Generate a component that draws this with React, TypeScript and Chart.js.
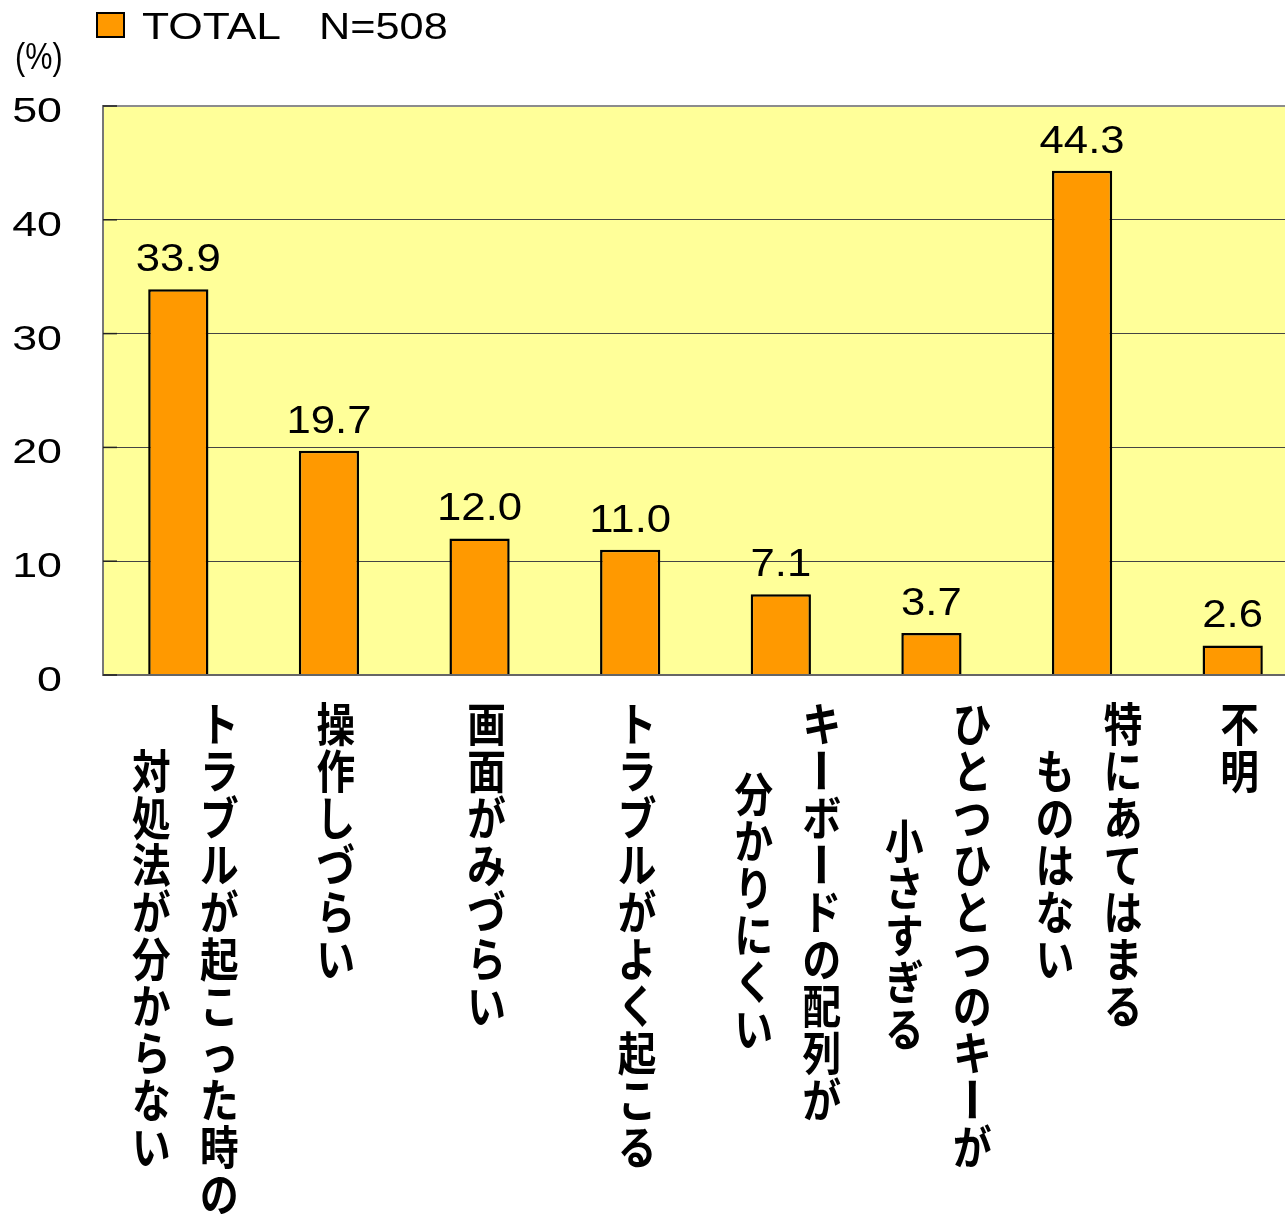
import React, { useEffect, useRef } from "react";
import { Chart, registerables } from "chart.js";

Chart.register(...registerables);

// ---- data ----
const categories: string[] = [
  "トラブルが起こった時の対処法が分からない",
  "操作しづらい",
  "画面がみづらい",
  "トラブルがよく起こる",
  "キーボードの配列が分かりにくい",
  "ひとつひとつのキーが小さすぎる",
  "特にあてはまるものはない",
  "不明",
];
const labelColumns: string[][] = [
  ["トラブルが起こった時の", "対処法が分からない"],
  ["操作しづらい"],
  ["画面がみづらい"],
  ["トラブルがよく起こる"],
  ["キーボードの配列が", "分かりにくい"],
  ["ひとつひとつのキーが", "小さすぎる"],
  ["特にあてはまる", "ものはない"],
  ["不明"],
];
const values: number[] = [33.9, 19.7, 12.0, 11.0, 7.1, 3.7, 44.3, 2.6];
const yTicks: number[] = [0, 10, 20, 30, 40, 50];
const seriesName = "TOTAL";
const sampleSize = "N=508";
const unitLabel = "(%)";

// ---- styles ----
const LATIN = '"Liberation Sans", Arial, sans-serif';
const CJK = '"Noto Sans CJK JP", sans-serif';
const BAR_COLOR = "#FF9900";
const PLOT_BG = "#FFFF99";

function drawText(
  ctx: CanvasRenderingContext2D,
  s: string,
  x: number,
  y: number,
  font: string,
  sx: number,
  sy: number,
  align: CanvasTextAlign,
  baseline: CanvasTextBaseline = "alphabetic"
) {
  ctx.save();
  ctx.translate(x, y);
  ctx.scale(sx, sy);
  ctx.font = font;
  ctx.textAlign = align;
  ctx.textBaseline = baseline;
  ctx.fillStyle = "#000";
  ctx.fillText(s, 0, 0);
  ctx.restore();
}

const decorPlugin = {
  id: "decor",
  beforeDraw(chart: any) {
    const { ctx, chartArea } = chart;
    ctx.save();
    ctx.fillStyle = PLOT_BG;
    ctx.fillRect(chartArea.left, chartArea.top, chartArea.right - chartArea.left, chartArea.bottom - chartArea.top);
    ctx.restore();
  },
  afterDatasetsDraw(chart: any) {
    const { ctx } = chart;
    const meta = chart.getDatasetMeta(0);
    meta.data.forEach((bar: any, i: number) => {
      drawText(ctx, values[i].toFixed(1), bar.x, bar.y - 18, `39px ${LATIN}`, 1.12, 1, "center");
    });
  },
  afterDraw(chart: any) {
    const { ctx, chartArea } = chart;
    const yScale = chart.scales.y;
    const xScale = chart.scales.x;

    // inward tick marks on the left axis
    ctx.save();
    ctx.strokeStyle = "#222";
    ctx.lineWidth = 1.5;
    yTicks.forEach((v) => {
      const py = yScale.getPixelForValue(v);
      ctx.beginPath();
      ctx.moveTo(chartArea.left, py);
      ctx.lineTo(chartArea.left + 14, py);
      ctx.stroke();
    });
    ctx.restore();

    // y tick labels
    yTicks.forEach((v) => {
      const py = yScale.getPixelForValue(v);
      drawText(ctx, String(v), 62, py + 16, `35px ${LATIN}`, 1.28, 1, "right");
    });

    // unit label
    drawText(ctx, unitLabel, 15, 69, `36px ${LATIN}`, 0.85, 1, "left");

    // legend
    ctx.save();
    ctx.fillStyle = BAR_COLOR;
    ctx.strokeStyle = "#000";
    ctx.lineWidth = 2;
    ctx.fillRect(97, 13, 27, 24);
    ctx.strokeRect(97, 13, 27, 24);
    ctx.restore();
    drawText(ctx, seriesName, 142, 39, `37px ${LATIN}`, 1.2, 1, "left");
    drawText(ctx, sampleSize, 319, 39, `37px ${LATIN}`, 1.17, 1, "left");

    // vertical x labels
    const pitch = 47;
    const top0 = 700;
    const colGap = 68;
    labelColumns.forEach((cols, i) => {
      const cx = xScale.getPixelForValue(i) + 7;
      const maxLen = Math.max(...cols.map((c) => Array.from(c).length));
      cols.forEach((col, j) => {
        const chars = Array.from(col);
        const x = cx + (cols.length === 1 ? 0 : (cols.length - 1) / 2 * colGap - j * colGap);
        const start = top0 + ((maxLen - chars.length) * pitch) / 2;
        chars.forEach((ch, k) => {
          const y = start + k * pitch + pitch / 2;
          ctx.save();
          ctx.translate(x, y);
          if (ch === "ー") {
            ctx.rotate(Math.PI / 2);
          } else {
            ctx.scale(0.84, 1);
          }
          ctx.font = `bold 46px ${CJK}`;
          ctx.textAlign = "center";
          ctx.textBaseline = "middle";
          ctx.fillStyle = "#000";
          ctx.fillText(ch, 0, 0);
          ctx.restore();
        });
      });
    });
  },
};

export default function App() {
  const canvasRef = useRef<HTMLCanvasElement | null>(null);

  useEffect(() => {
    if (!canvasRef.current) return;
    const chart = new Chart(canvasRef.current, {
      type: "bar",
      data: {
        labels: categories,
        datasets: [
          {
            label: seriesName,
            data: values,
            backgroundColor: BAR_COLOR,
            borderColor: "#000",
            borderWidth: 2.5,
            categoryPercentage: 1,
            barPercentage: 0.4,
          },
        ],
      },
      options: {
        responsive: true,
        maintainAspectRatio: false,
        animation: false,
        events: [],
        layout: { padding: { left: 103, top: 106, right: 12, bottom: 539 } },
        plugins: {
          legend: { display: false },
          tooltip: { enabled: false },
        },
        scales: {
          x: { display: false },
          y: {
            min: 0,
            max: 50,
            ticks: { display: false, stepSize: 10 },
            grid: {
              drawTicks: false,
              color: (c: any) => (c.tick && c.tick.value === 50 ? "#8c8c8c" : c.tick && c.tick.value === 0 ? "#666" : "#444"),
              lineWidth: (c: any) => (c.tick && (c.tick.value === 50 || c.tick.value === 0) ? 2 : 1),
            },
            border: { display: true, color: "#777", width: 2 },
          },
        },
      },
      plugins: [decorPlugin],
    });
    return () => chart.destroy();
  }, []);

  return (
    <div
      style={{
        position: "fixed",
        left: 0,
        top: 0,
        width: 1285,
        height: 1214,
        overflow: "hidden",
        background: "#fff",
      }}
    >
      <div style={{ position: "relative", width: 1320, height: 1214 }}>
        <canvas ref={canvasRef} />
      </div>
    </div>
  );
}
